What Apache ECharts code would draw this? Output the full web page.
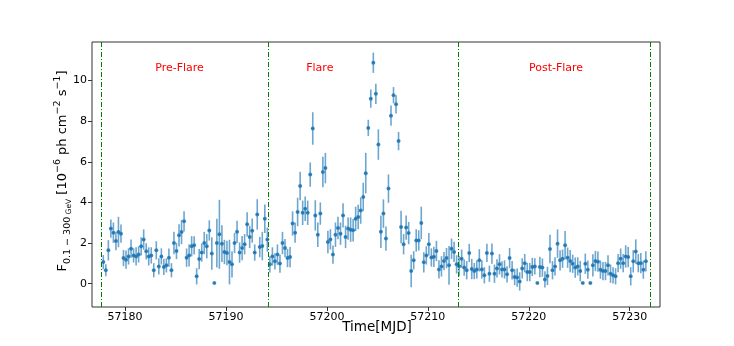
<!DOCTYPE html>
<html>
<head>
<meta charset="utf-8">
<script src="https://cdn.jsdelivr.net/npm/echarts@6/dist/echarts.min.js"></script>
<style>
  html, body { margin: 0; padding: 0; background: #fff; }
  #main { width: 734px; height: 346px; }
</style>
</head>
<body>
<div id="main"></div>
<script>
// time of each 6-hour bin (MJD)
var times = [
  57177.85, 57178.1, 57178.35, 57178.6, 57178.85, 57179.1, 57179.35, 57179.6,
  57179.85, 57180.1, 57180.35, 57180.6, 57180.85, 57181.1, 57181.35, 57181.6,
  57181.85, 57182.1, 57182.35, 57182.6, 57182.85, 57183.1, 57183.35, 57183.6,
  57183.85, 57184.1, 57184.35, 57184.6, 57184.85, 57185.1, 57185.35, 57185.6,
  57185.85, 57186.1, 57186.35, 57186.6, 57186.85, 57187.1, 57187.35, 57187.6,
  57187.85, 57188.1, 57188.35, 57188.6, 57188.85, 57189.1, 57189.35, 57189.6,
  57189.85, 57190.1, 57190.35, 57190.6, 57190.85, 57191.1, 57191.35, 57191.6,
  57191.85, 57192.1, 57192.35, 57192.6, 57192.85, 57193.1, 57193.35, 57193.6,
  57193.85, 57194.1, 57194.35, 57194.6, 57194.85, 57195.1, 57195.35, 57195.6,
  57195.85, 57196.1, 57196.35, 57196.6, 57196.85, 57197.1, 57197.35, 57197.6,
  57197.85, 57198.1, 57198.35, 57198.6, 57198.85, 57199.1, 57199.35, 57199.6,
  57199.85, 57200.1, 57200.35, 57200.6, 57200.85, 57201.1, 57201.35, 57201.6,
  57201.85, 57202.1, 57202.35, 57202.6, 57202.85, 57203.1, 57203.35, 57203.6,
  57203.85, 57204.1, 57204.35, 57204.6, 57204.85, 57205.1, 57205.35, 57205.6,
  57205.85, 57206.1, 57206.35, 57206.6, 57206.85, 57207.1, 57207.35, 57207.6,
  57207.85, 57208.1, 57208.35, 57208.6, 57208.85, 57209.1, 57209.35, 57209.6,
  57209.85, 57210.1, 57210.35, 57210.6, 57210.85, 57211.1, 57211.35, 57211.6,
  57211.85, 57212.1, 57212.35, 57212.6, 57212.85, 57213.1, 57213.35, 57213.6,
  57213.85, 57214.1, 57214.35, 57214.6, 57214.85, 57215.1, 57215.35, 57215.6,
  57215.85, 57216.1, 57216.35, 57216.6, 57216.85, 57217.1, 57217.35, 57217.6,
  57217.85, 57218.1, 57218.35, 57218.6, 57218.85, 57219.1, 57219.35, 57219.6,
  57219.85, 57220.1, 57220.35, 57220.6, 57220.85, 57221.1, 57221.35, 57221.6,
  57221.85, 57222.1, 57222.35, 57222.6, 57222.85, 57223.1, 57223.35, 57223.6,
  57223.85, 57224.1, 57224.35, 57224.6, 57224.85, 57225.1, 57225.35, 57225.6,
  57225.85, 57226.1, 57226.35, 57226.6, 57226.85, 57227.1, 57227.35, 57227.6,
  57227.85, 57228.1, 57228.35, 57228.6, 57228.85, 57229.1, 57229.35, 57229.6,
  57229.85, 57230.1, 57230.35, 57230.6, 57230.85, 57231.1, 57231.35, 57231.6
];

// flux 0.1-300 GeV, 1e-6 ph cm^-2 s^-1
var flux = [
  1.06, 0.66, 1.64, 2.71, 2.51, 2.10, 2.54, 2.46, 1.26, 1.18,
  1.34, 1.72, 1.39, 1.34, 1.44, 1.84, 2.17, 1.59, 1.34, 1.39,
  0.66, 1.64, 0.85, 1.34, 0.82, 0.90, 1.28, 0.66, 2.00, 1.61,
  2.38, 2.54, 3.07, 1.28, 1.39, 1.84, 1.89, 0.36, 1.21, 1.53,
  2.00, 1.84, 2.62, 1.48, 0.03, 2.00, 2.43, 1.97, 1.56, 1.51,
  1.06, 0.95, 2.00, 2.55, 1.53, 1.75, 1.94, 2.92, 2.30, 2.61,
  1.53, 3.41, 1.80, 1.85, 3.20, 2.17, 0.95, 1.34, 1.10, 1.43,
  0.99, 2.00, 1.75, 1.26, 1.31, 2.96, 2.51, 3.53, 4.81, 3.49,
  3.69, 3.49, 5.37, 7.64, 3.36, 2.41, 3.45, 5.50, 5.69, 2.05,
  2.18, 1.43, 2.41, 2.74, 2.46, 3.36, 2.30, 2.71, 2.66, 2.63,
  3.19, 3.28, 3.60, 4.27, 5.44, 7.67, 9.11, 10.88, 9.35, 6.85,
  2.56, 3.45, 2.22, 4.68, 8.27, 9.28, 8.83, 7.02, 2.79, 1.94,
  2.76, 2.49, 0.62, 1.15, 2.13, 2.13, 2.99, 1.05, 1.39, 1.94,
  1.29, 1.32, 1.61, 0.70, 0.85, 1.11, 1.26, 0.90, 1.72, 1.56,
  0.95, 0.86, 1.23, 0.79, 0.66, 1.51, 0.72, 0.62, 0.70, 1.15,
  0.70, 0.41, 1.51, 0.49, 1.48, 0.49, 0.75, 0.95, 0.70, 0.70,
  0.46, 1.26, 0.66, 0.33, 0.30, 0.11, 0.75, 1.01, 0.57, 0.57,
  0.82, 0.85, 0.03, 0.82, 0.79, 0.21, 0.38, 1.71, 0.66, 0.85,
  1.97, 1.15, 1.23, 1.89, 1.28, 1.11, 0.98, 0.79, 0.85, 0.62,
  0.03, 0.98, 0.69, 0.03, 0.90, 1.11, 1.08, 0.69, 0.62, 0.62,
  0.90, 0.49, 0.41, 0.36, 1.01, 1.23, 1.01, 1.34, 1.31, 0.36,
  1.10, 1.58, 1.01, 1.01, 0.69, 1.10
];

// 1-sigma flux errors
var fluxErr = [
  0.35, 0.3, 0.5, 0.45, 0.5, 0.45, 0.75, 0.45, 0.4, 0.45,
  0.4, 0.45, 0.35, 0.45, 0.4, 0.45, 0.5, 0.4, 0.45, 0.4,
  0.35, 0.45, 0.4, 0.4, 0.4, 0.35, 0.45, 0.35, 0.55, 0.4,
  0.55, 0.6, 0.5, 0.45, 0.55, 0.5, 0.45, 0.4, 0.5, 0.45,
  0.55, 0.6, 0.5, 0.8, 0, 1.2, 1.7, 0.9, 0.6, 0.6,
  1.1, 0.65, 0.5, 0.55, 0.5, 0.6, 0.5, 0.6, 0.55, 0.6,
  0.4, 0.75, 0.5, 0.7, 0.7, 0.6, 0.4, 0.45, 0.4, 0.5,
  0.45, 0.55, 0.45, 0.45, 0.5, 0.6, 0.5, 0.7, 0.7, 0.6,
  0.6, 0.6, 0.6, 0.8, 0.75, 0.6, 0.55, 0.75, 0.75, 0.55,
  0.5, 0.45, 0.6, 0.55, 0.55, 0.6, 0.55, 0.55, 0.6, 0.55,
  0.6, 0.6, 0.65, 0.7, 1.0, 0.4, 0.45, 0.5, 0.5, 0.75,
  0.8, 0.7, 0.6, 0.7, 0.5, 0.4, 0.45, 0.45, 0.8, 0.5,
  0.6, 0.55, 0.8, 0.45, 0.55, 0.5, 0.8, 0.5, 0.45, 0.55,
  0.45, 0.5, 0.5, 0.45, 0.5, 0.45, 0.5, 0.95, 0.5, 0.5,
  0.45, 0.5, 0.45, 0.4, 0.45, 0.45, 0.5, 0.4, 0.45, 0.55,
  0.45, 0.4, 0.45, 0.4, 0.5, 0.45, 0.45, 0.5, 0.4, 0.45,
  0.4, 0.5, 0.45, 0.4, 0.45, 0.45, 0.5, 0.45, 0.45, 0.45,
  0.45, 0.4, 0, 0.5, 0.45, 0.4, 0.45, 0.7, 0.45, 0.45,
  0.7, 0.5, 0.45, 0.7, 0.5, 0.55, 0.45, 0.5, 0.45, 0.5,
  0, 0.5, 0.45, 0, 0.55, 0.5, 0.5, 0.45, 0.45, 0.45,
  0.5, 0.45, 0.4, 0.4, 0.45, 0.5, 0.45, 0.55, 0.5, 0.45,
  0.55, 0.6, 0.45, 0.5, 0.45, 0.5
];

var binHalf = 0.125;  // half of the 6 h bin, in days
var periodEdges = [57177.6, 57194.2, 57213.0, 57232.0];
var periodNames = ['Pre-Flare', 'Flare', 'Post-Flare'];
var periodLabelX = [57185.4, 57199.3, 57222.7];
var periodLabelY = 10.6;
var xTicks = [57180, 57190, 57200, 57210, 57220, 57230];
var yTicks = [0, 2, 4, 6, 8, 10];

var blue = '#1f77b4';
var font = 'DejaVu Sans';

var points = times.map(function (t, i) { return [t, flux[i]]; });
var bars = times.map(function (t, i) {
  return [t, flux[i] - fluxErr[i], flux[i] + fluxErr[i], flux[i]];
});

var chart = echarts.init(document.getElementById('main'));

var option = {
  animation: false,
  backgroundColor: '#fff',
  grid: {
    left: 92, right: 74, top: 42, bottom: 39,
    show: true, borderColor: '#333', borderWidth: 1, backgroundColor: 'transparent'
  },
  xAxis: {
    type: 'value',
    min: 57176.73,
    max: 57233.0,
    axisLine: { show: false, onZero: false },
    axisTick: { show: true, customValues: xTicks, length: 4, lineStyle: { color: '#333' } },
    axisLabel: {
      customValues: xTicks, color: '#000', fontSize: 11, fontFamily: font, margin: 5,
      formatter: function (v) { return String(v); }
    },
    splitLine: { show: false }
  },
  yAxis: {
    type: 'value',
    min: -1.15,
    max: 11.9,
    axisLine: { show: false, onZero: false },
    axisTick: { show: true, customValues: yTicks, length: 4, lineStyle: { color: '#333' } },
    axisLabel: { customValues: yTicks, color: '#000', fontSize: 11, fontFamily: font, margin: 5 },
    splitLine: { show: false }
  },
  graphic: [
    {
      type: 'text',
      x: 377, y: 327,
      style: {
        text: 'Time[MJD]', fill: '#000', font: '13.5px "DejaVu Sans"',
        align: 'center', verticalAlign: 'middle'
      }
    },
    {
      type: 'text',
      x: 63, y: 171,
      rotation: Math.PI / 2,
      style: {
        text: '{a|F}{sub|0.1 − 300}{gev| GeV}{a| [10}{sup|−6}{a| ph cm}{sup|−2}{a| s}{sup|−1}{a|]}',
        align: 'center', verticalAlign: 'middle',
        rich: {
          a: { fontSize: 13, fontFamily: font, fill: '#000', lineHeight: 20, verticalAlign: 'middle' },
          sub: { fontSize: 9.5, fontFamily: font, fill: '#000', lineHeight: 20, verticalAlign: 'bottom' },
          gev: { fontSize: 7.5, fontFamily: font, fill: '#000', lineHeight: 20, verticalAlign: 'bottom' },
          sup: { fontSize: 9.5, fontFamily: font, fill: '#000', lineHeight: 20, verticalAlign: 'top' }
        }
      }
    }
  ],
  series: [
    {
      type: 'custom',
      name: 'errors',
      data: bars,
      z: 2,
      renderItem: function (params, api) {
        var t = api.value(0);
        var y = api.value(3);
        var lo = api.coord([t, api.value(1)]);
        var hi = api.coord([t, api.value(2)]);
        var l = api.coord([t - binHalf, y]);
        var r = api.coord([t + binHalf, y]);
        return {
          type: 'group',
          children: [
            {
              type: 'line',
              shape: { x1: lo[0], y1: lo[1], x2: hi[0], y2: hi[1] },
              style: { stroke: blue, lineWidth: 1.6, opacity: 0.65 }
            },
            {
              type: 'line',
              shape: { x1: l[0], y1: l[1], x2: r[0], y2: r[1] },
              style: { stroke: blue, lineWidth: 1.6 }
            }
          ]
        };
      }
    },
    {
      type: 'scatter',
      name: 'flux',
      data: points,
      symbol: 'circle',
      symbolSize: 4,
      z: 3,
      itemStyle: { color: blue },
      markLine: {
        silent: true,
        symbol: 'none',
        label: { show: false },
        lineStyle: { color: '#008000', width: 1, type: [5, 2, 1, 2] },
        data: periodEdges.map(function (v) { return { xAxis: v }; })
      },
      markPoint: {
        silent: true,
        symbol: 'circle',
        symbolSize: 0,
        label: {
          show: true, position: 'inside', color: '#ff0000', fontSize: 11, fontFamily: font,
          formatter: function (p) { return p.name; }
        },
        data: periodNames.map(function (n, i) {
          return { name: n, coord: [periodLabelX[i], periodLabelY] };
        })
      }
    }
  ]
};

chart.setOption(option);
</script>
</body>
</html>
